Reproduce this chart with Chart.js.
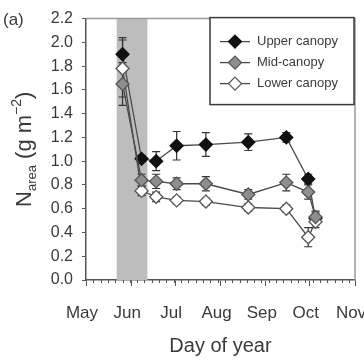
<!DOCTYPE html>
<html>
<head>
<meta charset="utf-8">
<script src="https://cdn.jsdelivr.net/npm/chart.js@4/dist/chart.umd.min.js"></script>
<style>
  html, body { margin: 0; padding: 0; background: #fff; }
  #wrap { width: 364px; height: 361px; position: relative; }
</style>
</head>
<body>
<div id="wrap"><canvas id="nChart"></canvas></div>
<script>
// day of year for each sampling date
const days = [146, 159, 169, 183, 203, 232, 258, 273, 278]
const upper = [1.90, 1.02, 1.00, 1.13, 1.14, 1.16, 1.20, 0.85, 0.52]
const upperErr = [0.14, 0.03, 0.08, 0.12, 0.10, 0.07, 0.04, 0.04, 0.05]
const mid = [1.65, 0.84, 0.83, 0.81, 0.81, 0.72, 0.82, 0.74, 0.53]
const midErr = [0.18, 0.05, 0.06, 0.05, 0.06, 0.04, 0.07, 0.06, 0.05]
const lower = [1.78, 0.75, 0.70, 0.67, 0.66, 0.61, 0.60, 0.36, 0.49]
const lowerErr = [0.24, 0.04, 0.04, 0.03, 0.03, 0.03, 0.03, 0.08, 0.05]

const monthDays = [121, 152, 182, 213, 244, 274, 305]
const monthLabels = ["May", "Jun", "Jul", "Aug", "Sep", "Oct", "Nov"]
const shadeStart = 142
const shadeEnd = 163

const textColor = "#3a3a3a"
const fontFamily = "'Liberation Sans', Arial, sans-serif"

const toPoints = (vals) => vals.map((v, i) => ({ x: days[i], y: v }))

function makeSeries(label, vals, errs, fill, border, order) {
  return {
    label: label,
    data: toPoints(vals),
    errors: errs,
    borderColor: "#4a4a4a",
    borderWidth: 1.3,
    pointStyle: "rectRot",
    pointRadius: 6.5,
    pointHoverRadius: 6.5,
    pointBackgroundColor: fill,
    pointBorderColor: border,
    pointBorderWidth: 1.3,
    order: order,
  }
}

const backgroundPlugin = {
  id: "background",
  beforeDatasetsDraw(chart) {
    const { ctx, chartArea, scales } = chart
    const x = scales.x
    const y = scales.y
    ctx.save()
    // shaded period
    ctx.fillStyle = "#bdbdbd"
    const x0 = x.getPixelForValue(shadeStart)
    const x1 = x.getPixelForValue(shadeEnd)
    ctx.fillRect(x0, chartArea.top, x1 - x0, chartArea.bottom - chartArea.top)

    // frame top and right
    ctx.strokeStyle = "#9a9a9a"
    ctx.lineWidth = 1.5
    ctx.beginPath()
    ctx.moveTo(chartArea.left, chartArea.top)
    ctx.lineTo(chartArea.right, chartArea.top)
    ctx.lineTo(chartArea.right, chartArea.bottom)
    ctx.stroke()

    // error bars
    ctx.strokeStyle = "#333"
    ctx.lineWidth = 1.2
    chart.data.datasets.forEach((ds) => {
      ds.data.forEach((p, i) => {
        const e = ds.errors[i]
        const px = x.getPixelForValue(p.x)
        const top = y.getPixelForValue(p.y + e)
        const bot = y.getPixelForValue(p.y - e)
        ctx.beginPath()
        ctx.moveTo(px, top)
        ctx.lineTo(px, bot)
        ctx.moveTo(px - 4, top)
        ctx.lineTo(px + 4, top)
        ctx.moveTo(px - 4, bot)
        ctx.lineTo(px + 4, bot)
        ctx.stroke()
      })
    })

    // minor ticks on the x axis
    ctx.strokeStyle = "#555"
    ctx.lineWidth = 1
    for (let d = monthDays[0]; d <= monthDays[monthDays.length - 1]; d += 5) {
      const px = Math.round(x.getPixelForValue(d)) + 0.5
      ctx.beginPath()
      ctx.moveTo(px, chartArea.bottom)
      ctx.lineTo(px, chartArea.bottom + 3)
      ctx.stroke()
    }
    ctx.restore()
  },
}

const annotationPlugin = {
  id: "annotations",
  afterDatasetsDraw(chart) {
    const { ctx, chartArea } = chart
    ctx.save()

    // legend box
    const bx = 210
    const by = chartArea.top - 1
    const bw = chartArea.right - 1 - bx
    const bh = 87
    ctx.fillStyle = "#fff"
    ctx.fillRect(bx, by, bw, bh)
    ctx.strokeStyle = "#3a3a3a"
    ctx.lineWidth = 1.5
    ctx.strokeRect(bx, by, bw, bh)

    ctx.font = "13px " + fontFamily
    ctx.textBaseline = "middle"
    chart.data.datasets.forEach((ds, i) => {
      const ly = by + 24 + i * 21
      ctx.strokeStyle = "#4a4a4a"
      ctx.lineWidth = 1.3
      ctx.beginPath()
      ctx.moveTo(220, ly)
      ctx.lineTo(250, ly)
      ctx.stroke()
      ctx.beginPath()
      ctx.moveTo(235, ly - 6.5)
      ctx.lineTo(241.5, ly)
      ctx.lineTo(235, ly + 6.5)
      ctx.lineTo(228.5, ly)
      ctx.closePath()
      ctx.fillStyle = ds.pointBackgroundColor
      ctx.fill()
      ctx.strokeStyle = ds.pointBorderColor
      ctx.stroke()
      ctx.fillStyle = textColor
      ctx.fillText(ds.label, 257, ly)
    })

    // panel label
    ctx.font = "17px " + fontFamily
    ctx.fillStyle = textColor
    ctx.textBaseline = "middle"
    ctx.fillText("(a)", 3, 20)

    // y axis title with subscript / superscript
    const parts = [
      { t: "N", s: 22, dy: 0 },
      { t: "area", s: 13, dy: 5 },
      { t: " (g m", s: 22, dy: 0 },
      { t: "\u22122", s: 14, dy: -10 },
      { t: ")", s: 22, dy: 0 },
    ]
    let total = 0
    parts.forEach((p) => {
      ctx.font = p.s + "px " + fontFamily
      p.w = ctx.measureText(p.t).width
      total += p.w
    })
    ctx.translate(31, (chartArea.top + chartArea.bottom) / 2)
    ctx.rotate(-Math.PI / 2)
    ctx.textBaseline = "alphabetic"
    let cx = -total / 2
    parts.forEach((p) => {
      ctx.font = p.s + "px " + fontFamily
      ctx.fillText(p.t, cx, p.dy)
      cx += p.w
    })
    ctx.restore()
  },
}

function createNitrogenChart() {
  const config = {
    type: "line",
    data: {
      datasets: [
        makeSeries("Upper canopy", upper, upperErr, "#111", "#111", 3),
        makeSeries("Mid-canopy", mid, midErr, "#8e8e8e", "#555", 1),
        makeSeries("Lower canopy", lower, lowerErr, "#fff", "#555", 2),
      ],
    },
    options: {
      responsive: true,
      maintainAspectRatio: false,
      animation: false,
      layout: { padding: { left: 0, right: 9, top: 16, bottom: 0 } },
      plugins: {
        legend: { display: false },
        tooltip: { enabled: false },
      },
      scales: {
        x: {
          type: "linear",
          min: monthDays[0],
          max: monthDays[monthDays.length - 1],
          afterBuildTicks: (scale) => {
            scale.ticks = monthDays.map((d) => ({ value: d }))
          },
          afterFit: (scale) => {
            scale.height = 81
            scale.paddingLeft = 0
            scale.paddingRight = 0
          },
          grid: {
            drawOnChartArea: false,
            tickLength: 6,
            tickColor: "#555",
          },
          border: { color: "#555", width: 1.5 },
          ticks: {
            padding: 17,
            labelOffset: -4,
            maxRotation: 0,
            autoSkip: false,
            color: textColor,
            font: { family: fontFamily, size: 17 },
            callback: (v) => monthLabels[monthDays.indexOf(v)],
          },
          title: {
            display: true,
            text: "Day of year",
            color: textColor,
            font: { family: fontFamily, size: 20 },
            padding: { top: 0, bottom: 3 },
          },
        },
        y: {
          min: 0,
          max: 2.2,
          afterFit: (scale) => {
            scale.width = 86
          },
          grid: {
            drawOnChartArea: false,
            tickLength: 4,
            tickColor: "#555",
          },
          border: { color: "#555", width: 1.5 },
          ticks: {
            stepSize: 0.2,
            padding: 9,
            color: textColor,
            font: { family: fontFamily, size: 16 },
            callback: (v) => v.toFixed(1),
          },
        },
      },
    },
    plugins: [backgroundPlugin, annotationPlugin],
  }

  const ctx = document.getElementById("nChart")
  new Chart(ctx, config)
}

document.addEventListener("DOMContentLoaded", () => {
  createNitrogenChart()
})
</script>
</body>
</html>
